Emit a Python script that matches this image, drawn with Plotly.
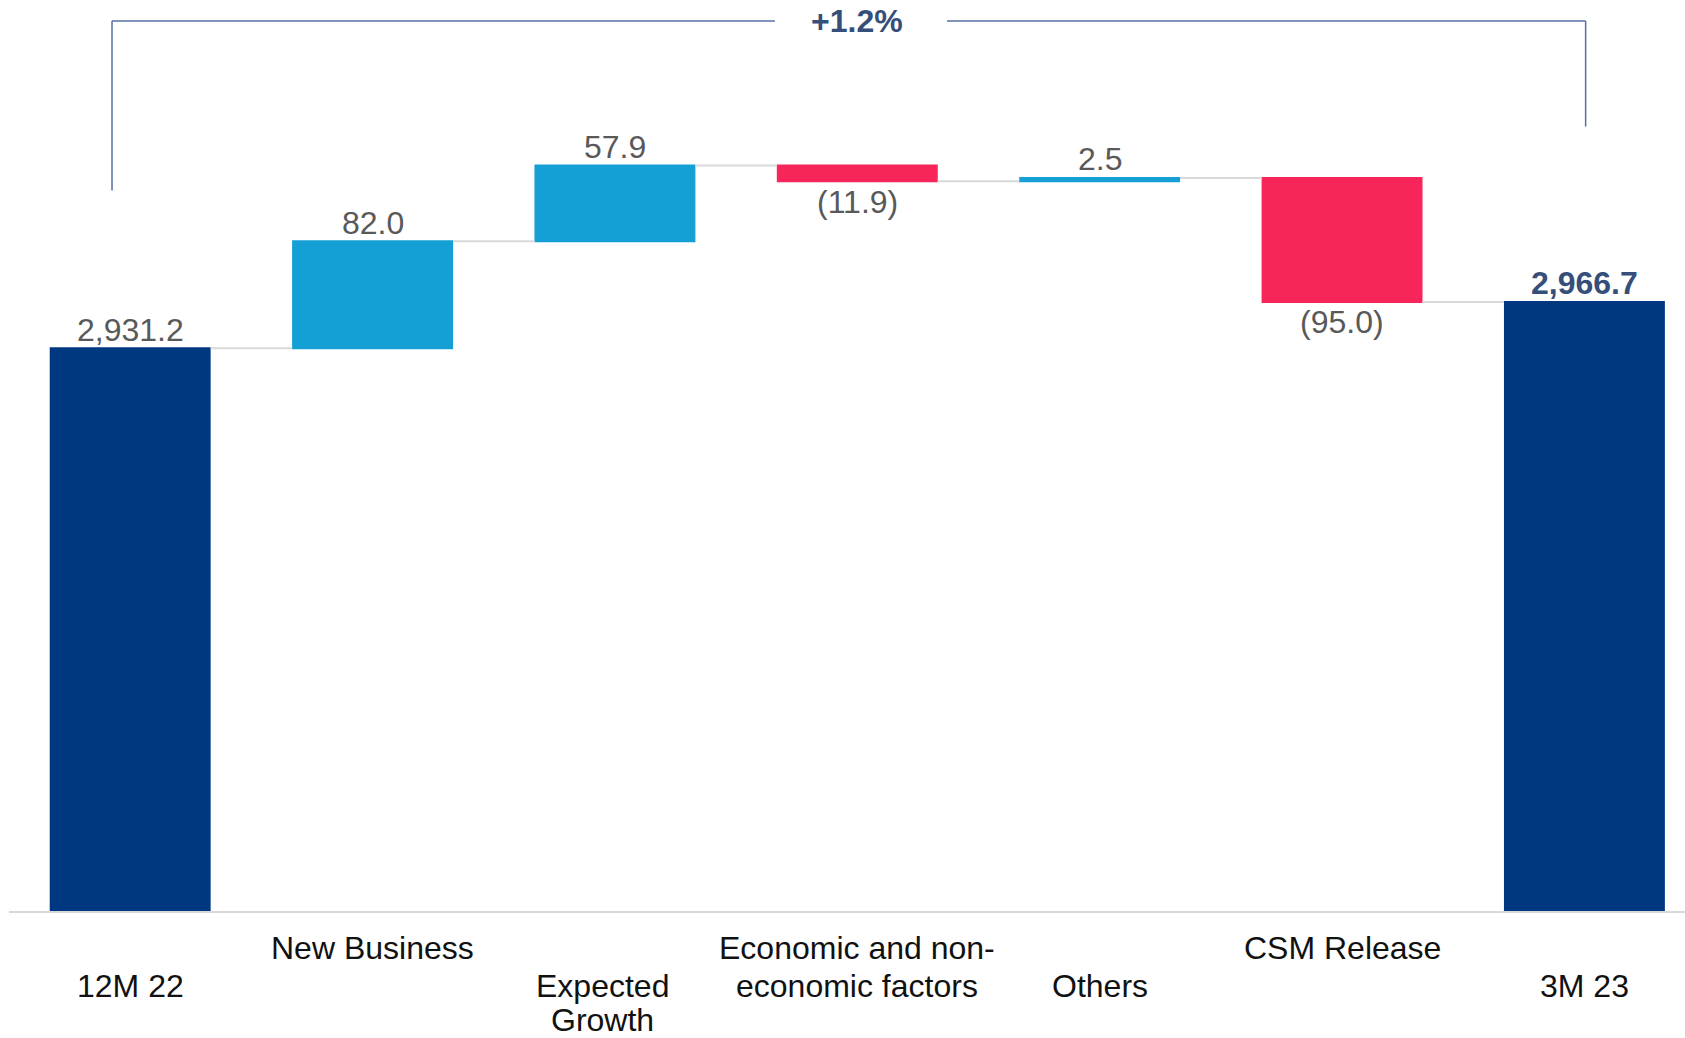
import plotly.graph_objects as go

# CSM roll-forward data
categories = ["12M 22", "New Business", "Expected<br>Growth",
              "Economic and non-<br>economic factors", "Others",
              "CSM Release", "3M 23"]
measures = ["absolute", "relative", "relative", "relative", "relative",
            "relative", "total"]
values = [2931.2, 82.0, 57.9, -11.9, 2.5, -95.0, 0.0]

NAVY = "#003781"
LIGHT_BLUE = "#14A0D4"
RED = "#F7255A"
LABEL_GREY = "#595959"
ACCENT = "#354f7a"
BRACKET = "#5570a0"
FONT = "Liberation Sans, Arial, sans-serif"
FS = 32

opening = values[0]
closing = sum(values[:-1])
growth_pct = (closing / opening - 1) * 100


def fmt(v):
    return f"({abs(v):,.1f})" if v < 0 else f"{v:,.1f}"


x = list(range(len(categories)))

fig = go.Figure(go.Waterfall(
    x=x,
    y=values,
    measure=measures,
    cliponaxis=False,
    increasing=dict(marker=dict(color=LIGHT_BLUE)),
    decreasing=dict(marker=dict(color=RED)),
    totals=dict(marker=dict(color=NAVY)),
    connector=dict(line=dict(color="#d9d9d9", width=2)),
    hoverinfo="skip",
))

annotations = []

# value labels: above the bar end for gains/totals, below it for losses
running = 0.0
for i, (m, v) in enumerate(zip(measures, values)):
    if m == "absolute":
        running = v
        end, label, neg = running, fmt(v), False
    elif m == "relative":
        running += v
        end, label, neg = running, fmt(v), v < 0
    else:
        end, label, neg = closing, f"<b>{closing:,.1f}</b>", False
    annotations.append(dict(
        x=i, y=end, xref="x", yref="y",
        text=label, showarrow=False,
        xanchor="center", yanchor="middle", borderpad=0,
        yshift=-20.5 if neg else 18.5,
        font=dict(family=FONT, size=FS,
                  color=ACCENT if m == "total" else LABEL_GREY),
    ))

# category labels on staggered rows below the axis (row 0 = upper row)
label_rows = [1, 0, 1, 0, 1, 0, 1]
label_xshift = [0, 0, -12, 0, 0, 0, 0]
row_px = [37, 74.5, 109]
for i, (cat, r) in enumerate(zip(categories, label_rows)):
    for j, line in enumerate(cat.split("<br>")):
        annotations.append(dict(
            x=i, y=0, xref="x", yref="paper",
            text=line, showarrow=False,
            xanchor="center", yanchor="middle", borderpad=0,
            xshift=label_xshift[i], yshift=-row_px[r + j],
            font=dict(family=FONT, size=FS, color="#111111"),
        ))

# growth bracket from opening to closing bar
y_top = 3182
annotations.append(dict(
    x=3.0, y=y_top, xref="x", yref="y",
    text=f"<b>{growth_pct:+.1f}%</b>", showarrow=False,
    xanchor="center", yanchor="middle",
    font=dict(family=FONT, size=FS, color=ACCENT),
))
line_style = dict(color=BRACKET, width=1.5)
shapes = [
    dict(type="line", xref="x", yref="y", x0=-0.075, x1=-0.075,
         y0=3052, y1=y_top, line=line_style),
    dict(type="line", xref="x", yref="y", x0=-0.075, x1=2.66,
         y0=y_top, y1=y_top, line=line_style),
    dict(type="line", xref="x", yref="y", x0=3.37, x1=6.005,
         y0=y_top, y1=y_top, line=line_style),
    dict(type="line", xref="x", yref="y", x0=6.005, x1=6.005,
         y0=3101, y1=y_top, line=line_style),
]

fig.update_layout(
    width=1685, height=1038,
    margin=dict(l=9, r=0, t=0, b=127),
    paper_bgcolor="white", plot_bgcolor="white",
    showlegend=False,
    waterfallgap=0.336,
    annotations=annotations,
    shapes=shapes,
    xaxis=dict(range=[-0.5, 6.415], showticklabels=False, ticks="",
               showgrid=False, zeroline=False,
               showline=True, linecolor="#d9d9d9", linewidth=2),
    yaxis=dict(range=[2500, 3198], visible=False, showgrid=False,
               zeroline=False),
)

fig.write_html("out.html")
